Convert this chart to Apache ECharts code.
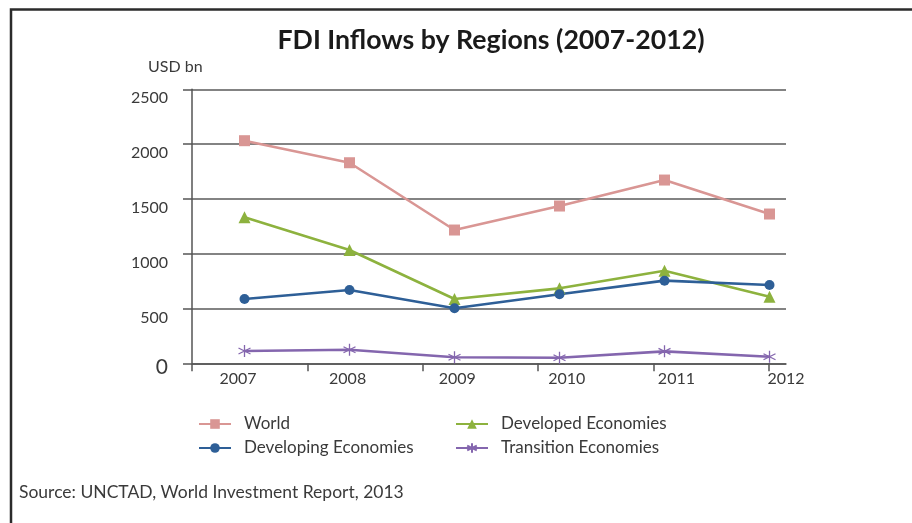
<!DOCTYPE html>
<html>
<head>
<meta charset="utf-8">
<script src="https://cdn.jsdelivr.net/npm/echarts@6/dist/echarts.min.js"></script>
<style>
  html, body { margin: 0; padding: 0; background: #fff; }
  #chart { width: 912px; height: 523px; }
</style>
</head>
<body>
<div id="chart"></div>
<script>
// FDI inflows, USD bn
const years = [2007, 2008, 2009, 2010, 2011, 2012];
const world = [2031, 1830, 1216, 1435, 1672, 1362];
const developed = [1332, 1034, 587, 684, 845, 608];
const developing = [587, 669, 502, 630, 754, 714];
const transition = [112, 124, 55, 51, 109, 60];
const yTicks = [0, 500, 1000, 1500, 2000, 2500];

const FONT = 'Lato, "Open Sans", sans-serif';
const TEXT = '#3a3a3a';
const ASTERISK = 'path://M5,0L5,10M0.67,2.5L9.33,7.5M0.67,7.5L9.33,2.5';

const pairs = vals => years.map((y, i) => [y, vals[i]]);

const lineSeries = (name, vals, color, symbol, size, extra) => Object.assign({
  name: name,
  type: 'line',
  xAxisIndex: 0,
  yAxisIndex: 0,
  data: pairs(vals),
  symbol: symbol,
  symbolSize: size,
  showSymbol: true,
  lineStyle: { color: color, width: 2.6 },
  itemStyle: { color: color },
  emphasis: { disabled: true },
  z: 3
}, extra || {});

const legendText = { fontFamily: FONT, fontSize: 17, color: TEXT, lineHeight: 17, padding: [0, 0, 0, 8] };

const chart = echarts.init(document.getElementById('chart'), null, { renderer: 'canvas' });

chart.setOption({
  animation: false,
  backgroundColor: '#ffffff',
  title: [
    {
      text: 'FDI Inflows by Regions (2007-2012)',
      left: 486, top: 22, textAlign: 'center',
      textStyle: { fontFamily: FONT, fontWeight: 'bold', fontSize: 26.7, color: '#1a1a1a' }
    },
    {
      text: 'USD bn',
      left: 143, top: 54,
      textStyle: { fontFamily: FONT, fontWeight: 'normal', fontSize: 16, color: TEXT }
    },
    {
      text: 'Source: UNCTAD, World Investment Report, 2013',
      left: 14, top: 478,
      textStyle: { fontFamily: FONT, fontWeight: 'normal', fontSize: 17.5, color: TEXT }
    }
  ],
  graphic: [{
    type: 'polyline',
    shape: { points: [[11, 523], [11, 9.5], [912, 9.5]] },
    style: { stroke: '#2b2b2b', lineWidth: 2.5, fill: null },
    silent: true
  }],
  grid: { left: 192, top: 89.3, width: 594, height: 274, containLabel: false },
  legend: [
    {
      orient: 'vertical', left: 193, top: 410.5,
      data: ['World', 'Developing Economies'],
      itemWidth: 32, itemHeight: 12, itemGap: 7,
      textStyle: legendText,
      selectedMode: false
    },
    {
      orient: 'vertical', left: 450, top: 410.5,
      data: ['Developed Economies', 'Transition Economies'],
      itemWidth: 32, itemHeight: 12, itemGap: 7,
      textStyle: legendText,
      selectedMode: false
    }
  ],
  xAxis: [
    {
      // data scale: one band per year
      type: 'value', position: 'bottom', min: 2006.5, max: 2012.157,
      axisLine: { show: true, onZero: false, lineStyle: { color: '#555', width: 1.5 } },
      axisTick: { show: false }, axisLabel: { show: false }, splitLine: { show: false }
    },
    {
      // tick marks along the base line
      type: 'value', position: 'bottom', min: 0, max: 5.147,
      axisLine: { show: false, onZero: false },
      axisTick: { show: true, customValues: [0, 1, 2, 3, 4, 5], length: 8, inside: false,
                  lineStyle: { color: '#555', width: 1.5 } },
      axisLabel: { show: false }, splitLine: { show: false }
    },
    {
      // year labels
      type: 'value', position: 'bottom', min: 2006.58, max: 2012,
      axisLine: { show: false, onZero: false }, axisTick: { show: false }, splitLine: { show: false },
      axisLabel: {
        show: true, customValues: years, margin: 8,
        fontFamily: FONT, fontSize: 16, color: TEXT,
        formatter: v => String(v)
      }
    }
  ],
  yAxis: {
    type: 'value', min: 0, max: 2500, interval: 500,
    axisLine: { show: true, lineStyle: { color: '#555', width: 1.5 } },
    axisTick: { show: true, length: 9, lineStyle: { color: '#555', width: 1.5 } },
    splitLine: { show: true, lineStyle: { color: '#5a5a5a', width: 1.5 } },
    axisLabel: {
      margin: 24, verticalAlign: 'top',
      fontFamily: FONT, fontSize: 16, lineHeight: 16, color: TEXT,
      customValues: yTicks,
      formatter: v => v === 0 ? '{z|0}' : '{n|' + v + '}',
      rich: {
        n: { fontFamily: FONT, fontSize: 16, lineHeight: 18, color: TEXT },
        z: { fontFamily: FONT, fontSize: 21, lineHeight: 8, color: TEXT }
      }
    }
  },
  series: [
    lineSeries('World', world, '#D99694', 'rect', 11),
    lineSeries('Developed Economies', developed, '#8DB23E', 'triangle', 12),
    lineSeries('Developing Economies', developing, '#2E5F97', 'circle', 10),
    lineSeries('Transition Economies', transition, '#8466AE', ASTERISK, 12, {
      itemStyle: { color: 'rgba(0,0,0,0)', borderColor: '#8466AE', borderWidth: 1.3 }
    })
  ]
});
</script>
</body>
</html>
